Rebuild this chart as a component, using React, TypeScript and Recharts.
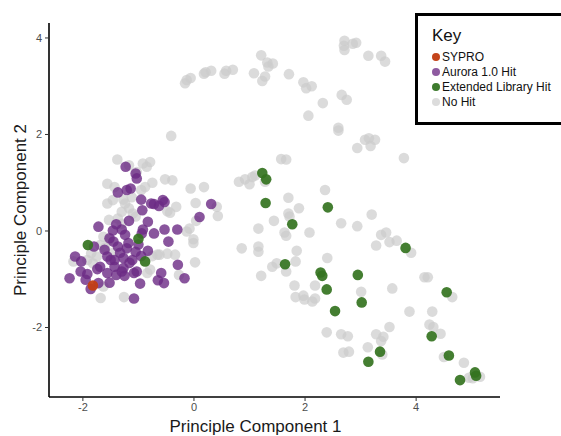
import { ScatterChart, Scatter, XAxis, YAxis, Label } from 'recharts';

type Pt = { x: number; y: number };

const xTicks = [-2, 0, 2, 4];
const yTicks = [-2, 0, 2, 4];

const syproPoints: Pt[] = [{ x: -1.82, y: -1.13 }];

const auroraPoints: Pt[] = [
  { x: -1.23, y: 1.33 }, { x: -1.05, y: 1.19 }, { x: -1.03, y: 1.09 }, { x: -1.37, y: 0.8 },
  { x: -1.21, y: 0.85 }, { x: -1.14, y: 0.88 }, { x: -0.95, y: 0.65 }, { x: -0.77, y: 0.57 },
  { x: -0.72, y: 0.56 }, { x: -0.63, y: 0.52 }, { x: -0.56, y: 0.64 }, { x: -0.53, y: 0.6 },
  { x: -0.93, y: 0.43 }, { x: 0.31, y: 0.56 }, { x: 0.1, y: 0.29 }, { x: -1.72, y: 0.09 },
  { x: -1.4, y: 0.14 }, { x: -1.17, y: 0.21 }, { x: -0.83, y: 0.19 }, { x: -0.92, y: 0.03 },
  { x: -0.94, y: -0.05 }, { x: -1.3, y: 0.03 }, { x: -1.46, y: 0.01 }, { x: -1.24, y: -0.08 },
  { x: -0.72, y: -0.05 }, { x: -0.53, y: 0.03 }, { x: -0.3, y: 0.03 }, { x: -0.46, y: -0.22 },
  { x: -1.8, y: -0.32 }, { x: -1.61, y: -0.39 }, { x: -1.45, y: -0.22 }, { x: -1.37, y: -0.32 },
  { x: -1.21, y: -0.36 }, { x: -1.05, y: -0.43 }, { x: -0.83, y: -0.41 }, { x: -2.14, y: -0.53 },
  { x: -2.03, y: -0.63 }, { x: -1.56, y: -0.53 }, { x: -1.43, y: -0.6 }, { x: -1.27, y: -0.56 },
  { x: -1.11, y: -0.6 }, { x: -0.95, y: -0.52 }, { x: -1.69, y: -0.74 }, { x: -1.43, y: -0.74 },
  { x: -1.27, y: -0.77 }, { x: -0.29, y: -0.7 }, { x: -2.04, y: -0.84 }, { x: -1.92, y: -0.89 },
  { x: -1.74, y: -0.79 }, { x: -1.56, y: -0.87 }, { x: -1.4, y: -0.91 }, { x: -1.25, y: -0.93 },
  { x: -1.08, y: -0.87 }, { x: -1.03, y: -0.84 }, { x: -0.59, y: -0.87 }, { x: -2.24, y: -0.98 },
  { x: -1.95, y: -1.01 }, { x: -1.72, y: -1.08 }, { x: -1.52, y: -1.07 }, { x: -0.97, y: -1.09 },
  { x: -0.65, y: -1.02 }, { x: -0.54, y: -1.08 }, { x: -0.17, y: -0.98 }, { x: -1.86, y: -1.2 },
  { x: -1.08, y: -1.4 }, { x: -1.5, y: -0.6 }, { x: -1.33, y: -0.45 }, { x: -1.16, y: -0.66 },
  { x: -1.3, y: -0.84 }, { x: -1.18, y: -0.25 }, { x: -1.52, y: -0.15 }, { x: -1.0, y: -0.28 },
];

const extendedPoints: Pt[] = [
  { x: -1.91, y: -0.29 }, { x: -1.0, y: -0.16 }, { x: -0.88, y: -0.63 }, { x: 1.23, y: 1.2 },
  { x: 1.3, y: 1.07 }, { x: 1.29, y: 0.58 }, { x: 2.41, y: 0.49 }, { x: 1.77, y: 0.14 },
  { x: 1.64, y: -0.69 }, { x: 3.81, y: -0.35 }, { x: 2.28, y: -0.86 }, { x: 2.31, y: -0.93 },
  { x: 2.95, y: -0.91 }, { x: 2.39, y: -1.21 }, { x: 3.02, y: -1.48 }, { x: 2.54, y: -1.66 },
  { x: 4.55, y: -1.27 }, { x: 4.28, y: -2.18 }, { x: 4.59, y: -2.58 }, { x: 3.35, y: -2.5 },
  { x: 3.14, y: -2.71 }, { x: 4.79, y: -3.09 }, { x: 5.06, y: -2.93 }, { x: 5.08, y: -3.0 },
];

const noHitPoints: Pt[] = [
  // upper arc
  { x: -0.16, y: 3.06 }, { x: -0.13, y: 3.13 }, { x: -0.06, y: 3.17 }, { x: 0.18, y: 3.26 },
  { x: 0.21, y: 3.29 }, { x: 0.31, y: 3.32 }, { x: 0.55, y: 3.26 }, { x: 0.58, y: 3.32 },
  { x: 0.7, y: 3.34 }, { x: 1.08, y: 3.27 }, { x: 1.21, y: 3.64 }, { x: 1.23, y: 3.11 },
  { x: 1.28, y: 3.2 }, { x: 1.32, y: 3.49 }, { x: 1.34, y: 3.41 }, { x: 1.42, y: 3.47 },
  { x: 1.71, y: 3.25 }, { x: 1.97, y: 3.08 }, { x: 2.02, y: 2.96 }, { x: 2.12, y: 3.0 },
  { x: 2.06, y: 2.39 }, { x: 2.32, y: 2.65 }, { x: 2.66, y: 2.82 }, { x: 2.75, y: 2.72 },
  { x: 2.6, y: 2.14 }, { x: 2.6, y: 2.08 }, { x: 2.71, y: 3.94 }, { x: 2.7, y: 3.84 },
  { x: 2.71, y: 3.75 }, { x: 2.86, y: 3.88 }, { x: 2.92, y: 3.9 }, { x: 3.14, y: 3.63 },
  { x: 3.37, y: 3.63 }, { x: 3.44, y: 3.51 }, { x: 2.94, y: 1.72 }, { x: 3.08, y: 1.89 },
  { x: 3.15, y: 1.92 }, { x: 3.18, y: 1.76 }, { x: 3.26, y: 1.89 }, { x: 3.78, y: 1.51 },
  { x: -0.41, y: 1.97 }, { x: 1.57, y: 1.49 }, { x: 1.66, y: 1.48 },
  // middle and lower right
  { x: 0.81, y: 1.02 }, { x: 0.92, y: 1.07 }, { x: 1.0, y: 0.97 }, { x: 1.05, y: 1.12 },
  { x: 1.1, y: 1.15 }, { x: 1.28, y: 1.02 }, { x: 2.36, y: 0.85 }, { x: 1.7, y: 0.69 },
  { x: 1.89, y: 0.47 }, { x: 1.7, y: 0.36 }, { x: 1.72, y: 0.3 }, { x: 1.44, y: 0.21 },
  { x: 2.65, y: 0.16 }, { x: 2.94, y: 0.1 }, { x: 3.2, y: 0.34 }, { x: 2.08, y: -0.03 },
  { x: 1.63, y: -0.03 }, { x: 1.66, y: -0.1 }, { x: 1.16, y: 0.05 }, { x: 1.16, y: -0.32 },
  { x: 1.16, y: -0.43 }, { x: 0.86, y: -0.36 }, { x: 1.85, y: -0.41 }, { x: 1.83, y: -0.63 },
  { x: 1.66, y: -0.84 }, { x: 1.41, y: -0.74 }, { x: 1.49, y: -0.67 }, { x: 1.21, y: -0.93 },
  { x: 2.4, y: -0.56 }, { x: 1.81, y: -1.13 }, { x: 2.18, y: -1.13 }, { x: 1.83, y: -1.37 },
  { x: 1.97, y: -1.34 }, { x: 1.99, y: -1.42 }, { x: 2.13, y: -1.46 }, { x: 2.18, y: -1.4 },
  { x: 3.01, y: -1.26 }, { x: 3.57, y: -1.19 }, { x: 3.28, y: -0.3 }, { x: 3.37, y: -0.08 },
  { x: 3.46, y: -0.03 }, { x: 3.52, y: -0.23 }, { x: 3.65, y: -0.2 }, { x: 3.91, y: -0.45 },
  { x: 4.15, y: -0.96 }, { x: 4.21, y: -0.96 }, { x: 4.65, y: -1.37 }, { x: 3.88, y: -1.67 },
  { x: 4.29, y: -1.67 }, { x: 4.24, y: -1.94 }, { x: 4.31, y: -1.99 }, { x: 4.44, y: -2.13 },
  { x: 3.52, y: -1.99 }, { x: 2.39, y: -2.1 }, { x: 2.65, y: -2.14 }, { x: 2.77, y: -2.18 },
  { x: 3.28, y: -2.14 }, { x: 3.41, y: -2.19 }, { x: 3.37, y: -2.28 }, { x: 3.13, y: -2.41 },
  { x: 2.69, y: -2.52 }, { x: 2.79, y: -2.5 }, { x: 3.39, y: -2.56 }, { x: 4.5, y: -2.61 },
  { x: 4.86, y: -2.73 }, { x: 4.95, y: -3.04 }, { x: 5.02, y: -3.05 }, { x: 5.15, y: -3.02 },
  // left cluster
  { x: -0.06, y: 0.88 }, { x: 0.18, y: 0.91 }, { x: 0.03, y: 0.58 }, { x: 0.41, y: 0.5 },
  { x: 0.43, y: 0.31 }, { x: 0.04, y: 0.21 }, { x: -0.13, y: -0.01 }, { x: -0.08, y: 0.05 },
  { x: -0.01, y: -0.17 }, { x: -0.01, y: -0.25 }, { x: 0.02, y: -0.65 }, { x: -0.52, y: 1.07 },
  { x: -0.39, y: 1.05 }, { x: -0.32, y: 0.5 }, { x: -0.43, y: 0.38 }, { x: -0.48, y: 0.41 },
  { x: -0.34, y: -0.49 }, { x: -0.27, y: -0.91 }, { x: -0.48, y: -0.47 }, { x: -0.62, y: -0.49 },
  { x: -0.75, y: -0.52 }, { x: -1.38, y: 1.48 }, { x: -0.92, y: 1.4 }, { x: -0.79, y: 1.43 },
  { x: -0.85, y: 1.33 }, { x: -0.75, y: 1.0 }, { x: -0.88, y: 0.91 }, { x: -0.95, y: 0.85 },
  { x: -1.56, y: 0.57 }, { x: -1.46, y: 0.64 }, { x: -1.27, y: 0.65 }, { x: -1.17, y: 0.47 },
  { x: -1.1, y: 0.36 }, { x: -1.05, y: 0.3 }, { x: -1.3, y: 0.4 }, { x: -1.37, y: 0.26 },
  { x: -1.53, y: 0.23 }, { x: -1.63, y: -0.12 }, { x: -1.69, y: -0.29 }, { x: -1.85, y: -0.46 },
  { x: -1.75, y: -0.53 }, { x: -1.92, y: -0.6 }, { x: -2.17, y: -0.63 }, { x: -1.68, y: -1.39 },
  { x: -1.26, y: -1.37 }, { x: -0.79, y: -0.8 }, { x: -0.84, y: -0.87 }, { x: -0.66, y: -0.49 },
  { x: -1.43, y: 0.91 }, { x: -1.56, y: 0.98 }, { x: -1.03, y: 1.22 }, { x: -1.17, y: 1.36 },
  { x: -1.53, y: -0.19 }, { x: -1.82, y: -0.67 }, { x: -1.63, y: -1.15 }, { x: -1.24, y: 0.57 },
  { x: -1.12, y: 0.7 }, { x: -1.6, y: -0.35 }, { x: -1.45, y: -0.45 }, { x: -1.3, y: 0.15 },
];

const legendItems = [
  { name: 'SYPRO', color: '#c4441b' },
  { name: 'Aurora 1.0 Hit', color: '#8e5aa0' },
  { name: 'Extended Library Hit', color: '#3e7b2e' },
  { name: 'No Hit', color: '#dcdcdc' },
];

const FONT = '"Liberation Sans", Arial, Helvetica, sans-serif';

const dot = (fill: string, opacity: number) => (p: any) => (
  <circle cx={p.cx} cy={p.cy} r={5.3} fill={fill} fillOpacity={opacity} />
);

// legend box sits over the chart, top right, running off the edge like the original
function KeyBox() {
  return (
    <div
      style={{
        position: 'absolute',
        left: 415,
        top: 13,
        width: 150,
        height: 106,
        border: '3px solid #000',
        background: '#fff',
        fontFamily: FONT,
      }}
    >
      <div style={{ fontSize: 17, lineHeight: '20px', color: '#111', marginLeft: 14, marginTop: 10, marginBottom: 3 }}>Key</div>
      {legendItems.map((item) => (
        <div key={item.name} style={{ display: 'flex', alignItems: 'center', height: 15, marginLeft: 14 }}>
          <span
            style={{
              width: 8,
              height: 8,
              borderRadius: '50%',
              background: item.color,
              marginRight: 2,
              display: 'inline-block',
            }}
          />
          <span style={{ fontSize: 12, color: '#111' }}>{item.name}</span>
        </div>
      ))}
    </div>
  );
}

export default function App() {
  return (
    <div style={{ position: 'absolute', left: 0, top: 0, width: 561, height: 436, overflow: 'hidden', background: '#fff' }}>
      <ScatterChart width={561} height={436} margin={{ top: 23, right: 61, left: 0, bottom: 0 }}>
        <XAxis
          type="number"
          dataKey="x"
          domain={[-2.61, 5.51]}
          ticks={xTicks}
          allowDataOverflow
          height={39}
          tickSize={4}
          tickMargin={2}
          axisLine={{ stroke: '#000', strokeWidth: 1.6 }}
          tickLine={{ stroke: '#333' }}
          tick={{ fill: '#4d4d4d', fontSize: 11, fontFamily: FONT }}
        >
          <Label
            value="Principle Component 1"
            position="insideBottom"
            offset={4}
            dx={-19}
            style={{ fontSize: 17, fill: '#1a1a1a', fontFamily: FONT }}
          />
        </XAxis>
        <YAxis
          type="number"
          dataKey="y"
          domain={[-3.44, 4.31]}
          ticks={yTicks}
          allowDataOverflow
          width={49}
          tickSize={4}
          tickMargin={3}
          axisLine={{ stroke: '#000', strokeWidth: 1.6 }}
          tickLine={{ stroke: '#333' }}
          tick={{ fill: '#4d4d4d', fontSize: 11, fontFamily: FONT }}
        >
          <Label
            value="Principle Component 2"
            angle={-90}
            position="insideLeft"
            offset={20}
            style={{ fontSize: 17, fill: '#1a1a1a', fontFamily: FONT, textAnchor: 'middle' }}
          />
        </YAxis>
        <Scatter name="No Hit" data={noHitPoints} shape={dot('#cccccc', 0.7)} isAnimationActive={false} />
        <Scatter name="Aurora 1.0 Hit" data={auroraPoints} shape={dot('#6c2a84', 0.8)} isAnimationActive={false} />
        <Scatter name="Extended Library Hit" data={extendedPoints} shape={dot('#34731f', 0.92)} isAnimationActive={false} />
        <Scatter name="SYPRO" data={syproPoints} shape={dot('#c23e14', 0.95)} isAnimationActive={false} />
      </ScatterChart>
      <KeyBox />
    </div>
  );
}
